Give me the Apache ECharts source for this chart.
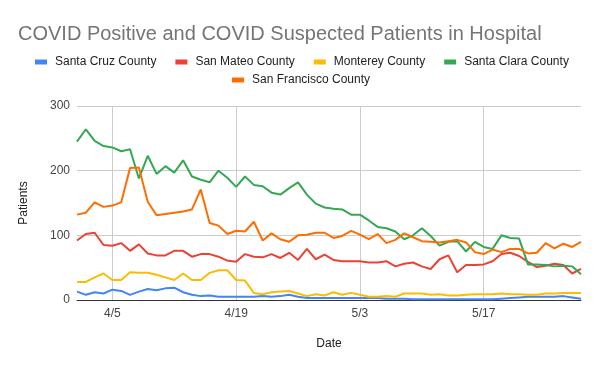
<!DOCTYPE html>
<html><head><meta charset="utf-8">
<script src="https://cdn.jsdelivr.net/npm/echarts@6/dist/echarts.min.js"></script>
<style>html,body{margin:0;padding:0;background:#fff}#c{width:600px;height:371px}</style>
</head><body><div id="c"></div>
<script>
const dates = ["4/1","4/2","4/3","4/4","4/5","4/6","4/7","4/8","4/9","4/10","4/11","4/12","4/13","4/14","4/15","4/16","4/17","4/18","4/19","4/20","4/21","4/22","4/23","4/24","4/25","4/26","4/27","4/28","4/29","4/30","5/1","5/2","5/3","5/4","5/5","5/6","5/7","5/8","5/9","5/10","5/11","5/12","5/13","5/14","5/15","5/16","5/17","5/18","5/19","5/20","5/21","5/22","5/23","5/24","5/25","5/26","5/27","5/28"];
const santaCruz = [13,8,12,10,16,14,8,13,17,15,18,19,12,8,6,7,5,5,5,5,5,6,5,6,8,5,3,3,3,3,3,3,3,3,3,2,2,2,1,1,1,1,1,1,1,1,1,1,2,3,4,5,5,5,5,6,4,2];
const sanMateo = [92,102,104,85,84,88,76,86,72,69,69,76,76,67,71,71,67,61,59,71,67,66,71,65,73,62,79,63,70,62,60,60,60,58,58,60,52,56,58,52,48,63,69,43,54,54,55,60,71,73,68,59,51,53,56,54,41,48];
const monterey = [28,28,35,41,31,31,43,42,42,39,35,31,41,31,31,42,46,46,31,30,11,9,12,13,14,10,6,9,7,12,8,11,8,5,5,6,5,10,10,10,8,9,7,7,8,9,9,9,10,9,9,8,8,10,10,11,11,11];
const santaClara = [245,264,246,238,236,230,233,188,223,195,207,197,216,191,186,182,200,189,175,191,178,176,166,163,173,182,163,149,143,141,140,132,132,123,113,111,106,94,100,111,99,84,90,91,75,90,82,79,100,96,95,55,55,54,52,53,52,40];
const sanFrancisco = [132,135,151,144,146,151,204,205,152,131,133,135,137,140,171,119,115,102,107,106,121,92,103,94,90,100,101,104,104,96,99,107,101,94,102,88,93,103,97,91,90,89,91,93,89,74,71,78,74,79,79,72,73,88,80,87,82,90];
const seriesNames = ["Santa Cruz County","San Mateo County","Monterey County","Santa Clara County","San Francisco County"];
const seriesColors = ["#4285F4","#EA4335","#FBBC04","#34A853","#FF6D01"];
const seriesData = [santaCruz, sanMateo, monterey, santaClara, sanFrancisco];
const yTicks = [0,100,200,300];

const FONT = "'Liberation Sans', Arial, sans-serif";
const tickIdx = (i) => i % 14 === 4;
const chart = echarts.init(document.getElementById('c'), null, {renderer:'canvas'});
chart.setOption({
  animation:false,
  textStyle:{fontFamily:FONT},
  title:{text:"COVID Positive and COVID Suspected Patients in Hospital", left:13, top:19,
    textStyle:{fontFamily:FONT, fontSize:20, fontWeight:'normal', color:'#757575'}},
  legend:[
    {data:seriesNames.slice(0,4), left:30, top:51, itemWidth:12, itemHeight:5, itemGap:19, icon:'rect',
     textStyle:{fontFamily:FONT, fontSize:12, color:'#222', padding:[0,0,0,3]}},
    {data:seriesNames.slice(4), left:227, top:69, itemWidth:12, itemHeight:5, itemGap:19, icon:'rect',
     textStyle:{fontFamily:FONT, fontSize:12, color:'#222', padding:[0,0,0,3]}}
  ],
  grid:{left:77, right:19, top:106, bottom:71, containLabel:false},
  xAxis:{type:'category', data:dates, boundaryGap:false,
    name:'Date', nameLocation:'middle', nameGap:38,
    nameTextStyle:{fontFamily:FONT, fontSize:12, color:'#222'},
    axisLine:{lineStyle:{color:'#333', width:1}},
    axisTick:{show:false},
    axisLabel:{interval:tickIdx, fontFamily:FONT, fontSize:12, color:'#444', margin:8},
    splitLine:{show:true, interval:tickIdx, lineStyle:{color:'#ccc', width:1}}},
  yAxis:{type:'value', min:yTicks[0], max:yTicks[yTicks.length-1], interval:100,
    name:'Patients', nameLocation:'middle', nameGap:47,
    nameTextStyle:{fontFamily:FONT, fontSize:12, color:'#222'},
    axisLine:{show:false}, axisTick:{show:false},
    axisLabel:{fontFamily:FONT, fontSize:12, color:'#444', margin:7},
    splitLine:{lineStyle:{color:'#ccc', width:1}}},
  series: seriesNames.map((n,k)=>({name:n, type:'line', data:seriesData[k], symbol:'none',
    color:seriesColors[k], lineStyle:{width:2, color:seriesColors[k]}, z:2}))
});
</script></body></html>
